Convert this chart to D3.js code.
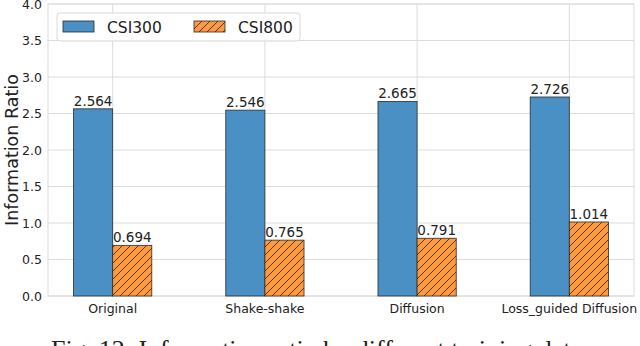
<!DOCTYPE html>
<html>
<head>
<meta charset="utf-8">
<script src="https://cdn.jsdelivr.net/npm/d3@7"></script>
<style>
  body { margin: 0; background: #fff; }
  svg text { font-family: "DejaVu Sans", sans-serif; fill: #222; }
</style>
</head>
<body>
<div class="graph"></div>
<script>
const categories = ["Original", "Shake-shake", "Diffusion", "Loss_guided Diffusion"];
const seriesNames = ["CSI300", "CSI800"];
const csi300 = [2.564, 2.546, 2.665, 2.726];
const csi800 = [0.694, 0.765, 0.791, 1.014];
const yTicks = [0.0, 0.5, 1.0, 1.5, 2.0, 2.5, 3.0, 3.5, 4.0];

const w = 640;
const h = 346;
const margin = {top: 4, right: 6, bottom: 50, left: 48};

const color = d3.scaleOrdinal(seriesNames, ["#4a90c4", "#ff9a3c"]);

const canvas = d3.select(".graph")
  .append("svg")
  .attr("width", w)
  .attr("height", h);

const defs = canvas.append("defs");
const pat = defs.append("pattern")
  .attr("id", "hatch")
  .attr("patternUnits", "userSpaceOnUse")
  .attr("width", 8)
  .attr("height", 8);
pat.append("rect").attr("width", 8).attr("height", 8).attr("fill", color("CSI800"));
pat.append("path")
  .attr("d", "M-2,10 L10,-2 M-6,6 L6,-6 M2,14 L14,2")
  .attr("stroke", "#222")
  .attr("stroke-width", 0.8);

// numeric x positions, bars sit either side of the category position
const xScale = d3.scaleLinear()
  .domain([-0.425, 3.425])
  .range([margin.left, w - margin.right]);
const barW = 0.257;

const yScale = d3.scaleLinear()
  .domain([0, 4])
  .range([h - margin.bottom, margin.top]);

// grid
canvas.append("g")
  .selectAll("line")
  .data(yTicks)
  .enter().append("line")
  .attr("x1", margin.left)
  .attr("x2", w - margin.right)
  .attr("y1", d => yScale(d))
  .attr("y2", d => yScale(d))
  .attr("stroke", "#dcdcdc")
  .attr("stroke-width", 1);

canvas.append("g")
  .selectAll("line")
  .data(categories)
  .enter().append("line")
  .attr("x1", (d, i) => xScale(i))
  .attr("x2", (d, i) => xScale(i))
  .attr("y1", margin.top)
  .attr("y2", h - margin.bottom)
  .attr("stroke", "#dcdcdc")
  .attr("stroke-width", 1);

// frame
canvas.append("rect")
  .attr("x", margin.left)
  .attr("y", margin.top)
  .attr("width", w - margin.left - margin.right)
  .attr("height", h - margin.top - margin.bottom)
  .attr("fill", "none")
  .attr("stroke", "#dcdcdc");

// bars
const groups = [
  {name: "CSI300", values: csi300, off: -barW},
  {name: "CSI800", values: csi800, off: 0}
];

groups.forEach(g => {
  canvas.append("g")
    .selectAll("rect")
    .data(g.values)
    .enter().append("rect")
    .attr("x", (d, i) => xScale(i + g.off))
    .attr("y", d => yScale(d))
    .attr("width", xScale(barW) - xScale(0))
    .attr("height", d => yScale(0) - yScale(d))
    .attr("fill", g.name === "CSI800" ? "url(#hatch)" : color(g.name))
    .attr("stroke", "#2a2a2a")
    .attr("stroke-width", 0.8);

  canvas.append("g")
    .selectAll("text")
    .data(g.values)
    .enter().append("text")
    .attr("x", (d, i) => xScale(i + g.off + barW / 2))
    .attr("y", d => yScale(d) - 3)
    .attr("text-anchor", "middle")
    .style("font-size", "13.5px")
    .text(d => d.toFixed(3));
});

// axes
const yAxis = d3.axisLeft(yScale)
  .tickValues(yTicks)
  .tickFormat(d3.format(".1f"))
  .tickSize(0)
  .tickPadding(6);

canvas.append("g")
  .attr("transform", `translate(${margin.left},0)`)
  .call(yAxis)
  .call(g => g.select(".domain").remove())
  .selectAll("text")
  .style("font-size", "12.5px")
  .style("font-family", "DejaVu Sans")
  .attr("fill", "#222");

canvas.append("g")
  .selectAll("text")
  .data(categories)
  .enter().append("text")
  .attr("x", (d, i) => xScale(i))
  .attr("y", h - margin.bottom + 17)
  .attr("text-anchor", "middle")
  .style("font-size", "12.5px")
  .text(d => d);

canvas.append("text")
  .attr("transform", "rotate(-90)")
  .attr("x", -(margin.top + (h - margin.bottom)) / 2)
  .attr("y", 18)
  .attr("text-anchor", "middle")
  .style("font-size", "17.5px")
  .text("Information Ratio");

// legend
const legend = canvas.append("g").attr("transform", "translate(57,13)");
legend.append("rect")
  .attr("width", 243)
  .attr("height", 28)
  .attr("rx", 3)
  .attr("fill", "#fff")
  .attr("fill-opacity", 0.85)
  .attr("stroke", "#d8d8d8");

const items = legend.selectAll(".legend")
  .data(seriesNames)
  .enter().append("g")
  .attr("class", "legend")
  .attr("transform", (d, i) => `translate(${6 + i * 131},0)`);

items.append("rect")
  .attr("y", 8)
  .attr("width", 31)
  .attr("height", 11)
  .attr("fill", d => d === "CSI800" ? "url(#hatch)" : color(d))
  .attr("stroke", "#2a2a2a")
  .attr("stroke-width", 0.8);

items.append("text")
  .attr("x", 44)
  .attr("y", 19.5)
  .style("font-size", "15.5px")
  .text(d => d);

// caption (cut off at bottom as in the source)
canvas.append("text")
  .attr("x", 51)
  .attr("y", 358)
  .style("font-family", "Liberation Serif, serif")
  .style("font-size", "26px")
  .text("Fig. 12: Information ratio by different training data");
</script>
</body>
</html>
